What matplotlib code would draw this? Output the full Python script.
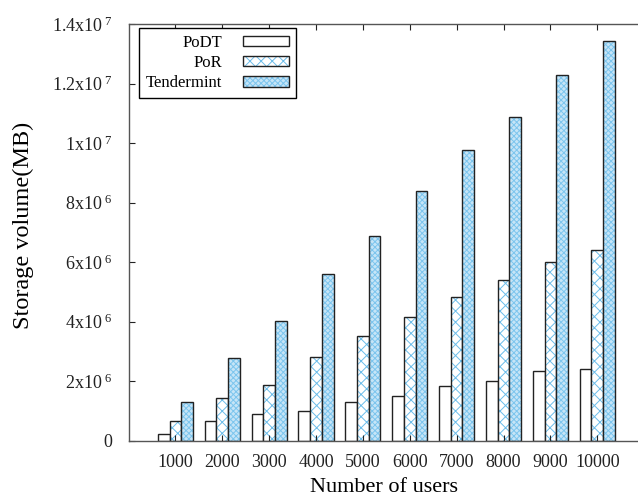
import numpy as np
import matplotlib
matplotlib.use("Agg")
import matplotlib.pyplot as plt
from matplotlib.legend_handler import HandlerTuple

plt.rcParams['font.family'] = ['Liberation Serif', 'DejaVu Serif']
plt.rcParams['mathtext.fontset'] = 'custom'
plt.rcParams['mathtext.rm'] = 'Liberation Serif'
plt.rcParams['mathtext.it'] = 'Liberation Serif'
plt.rcParams['hatch.linewidth'] = 0.7

users = ['1000', '2000', '3000', '4000', '5000', '6000', '7000', '8000', '9000', '10000']
podt = [0.22e6, 0.65e6, 0.90e6, 1.00e6, 1.31e6, 1.48e6, 1.82e6, 1.99e6, 2.35e6, 2.42e6]
por = [0.64e6, 1.42e6, 1.87e6, 2.80e6, 3.50e6, 4.14e6, 4.83e6, 5.39e6, 6.00e6, 6.40e6]
tendermint = [1.31e6, 2.76e6, 4.03e6, 5.58e6, 6.87e6, 8.39e6, 9.76e6, 10.88e6, 12.28e6, 13.43e6]

yticks = [0, 2e6, 4e6, 6e6, 8e6, 10e6, 12e6, 14e6]
ytick_labels = ['0', r'2x10$^{\ 6}$', r'4x10$^{\ 6}$', r'6x10$^{\ 6}$', r'8x10$^{\ 6}$',
                r'1x10$^{\ 7}$', r'1.2x10$^{\ 7}$', r'1.4x10$^{\ 7}$']

edge = '#222222'

fig = plt.figure(figsize=(6.38, 4.99), dpi=100)
ax = fig.add_axes([129.3 / 638, 1 - 440.5 / 499, 1 - 129.3 / 638, (440.5 - 24) / 499])

x = np.arange(len(users))
w = 0.25

b1 = ax.bar(x - w, podt, w, color='white', edgecolor=edge, linewidth=1.0)
b2h = ax.bar(x, por, w, color='white', edgecolor='#6cbdea', hatch='xxx', linewidth=0)
b2 = ax.bar(x, por, w, fill=False, edgecolor=edge, linewidth=1.0)
b3h = ax.bar(x + w, tendermint, w, color='#c6e5f7', edgecolor='#7cc5ee', hatch='xxxxxx', linewidth=0)
b3 = ax.bar(x + w, tendermint, w, fill=False, edgecolor=edge, linewidth=1.0)

ax.set_xlim(-0.985, 9.87)
ax.set_ylim(0, 1.4e7)
ax.set_xticks(x)
ax.set_xticklabels(users)
ax.set_yticks(yticks)
ax.set_yticklabels(ytick_labels)
ax.tick_params(axis='both', direction='in', length=4, width=0.8, labelsize=13, colors='#222222')
ax.tick_params(axis='x', pad=10, top=True)
ax.tick_params(axis='y', pad=12)
ax.spines['right'].set_visible(False)
for s in ['left', 'top', 'bottom']:
    ax.spines[s].set_color('#555555')
    ax.spines[s].set_linewidth(1.0)

fig.text(384 / 638, 1 - 487 / 499, 'Number of users', ha='center', va='center', fontsize=16)
fig.text(23 / 638, 1 - 225 / 499, 'Storage volume(MB)', ha='center', va='center',
         rotation=90, fontsize=17.5)

leg = ax.legend([b1[0], (b2h[0], b2[0]), (b3h[0], b3[0])], ['PoDT', 'PoR', 'Tendermint'],
                handler_map={tuple: HandlerTuple(ndivide=1)},
                loc='upper left', bbox_to_anchor=(0.02, 0.99), borderaxespad=0,
                markerfirst=False, fancybox=False, framealpha=1, edgecolor='black',
                fontsize=12, handlelength=2.8, handleheight=0.6, labelspacing=0.25,
                borderpad=0.4, handletextpad=1.2)
leg.get_frame().set_linewidth(1.0)
for t in leg.get_texts():
    t.set_ha('right')

fig.savefig('out.png', dpi=100)
